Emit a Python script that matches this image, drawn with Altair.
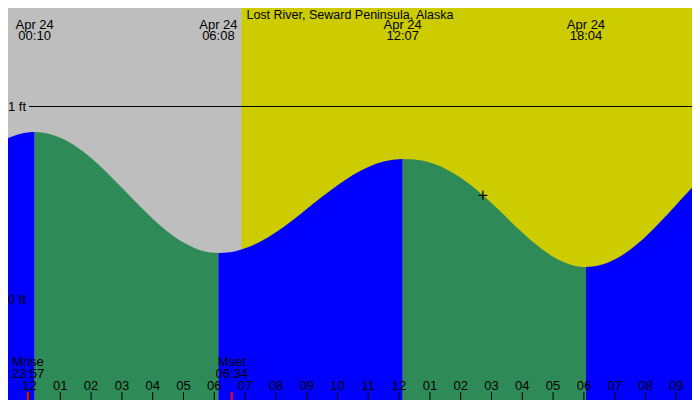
import altair as alt
import pandas as pd

# ---------------- data ----------------
title_text = "Lost River, Seward Peninsula, Alaska"

# predicted tide height (hours after 00:00 Apr 24, feet)
tide_hours = [-1.0, -0.5, 0.0, 0.167, 0.5, 1.0, 1.5, 2.0, 2.5, 3.0, 3.5, 4.0, 4.5, 5.0, 5.5, 6.0,
              6.133, 6.5, 7.0, 7.5, 8.0, 8.5, 9.0, 9.5, 10.0, 10.5, 11.0, 11.5, 12.0,
              12.117, 12.5, 13.0, 13.5, 14.0, 14.5, 15.0, 15.5, 16.0, 16.5, 17.0, 17.5, 18.0,
              18.067, 18.5, 19.0, 19.5, 20.0, 20.5, 21.0, 21.5, 22.0]
tide_ft = [0.813, 0.849, 0.867, 0.868, 0.863, 0.838, 0.794, 0.733, 0.660, 0.579, 0.497, 0.419, 0.350, 0.295, 0.258, 0.242,
           0.241, 0.245, 0.266, 0.301, 0.349, 0.406, 0.469, 0.532, 0.592, 0.645, 0.687, 0.715, 0.727,
           0.728, 0.725, 0.710, 0.678, 0.631, 0.571, 0.500, 0.423, 0.347, 0.278, 0.221, 0.184, 0.168,
           0.168, 0.177, 0.207, 0.258, 0.325, 0.405, 0.491, 0.578, 0.660]

# high / low tide events shown in the header
extreme_dates = ["Apr 24", "Apr 24", "Apr 24", "Apr 24"]
extreme_times = ["00:10", "06:08", "12:07", "18:04"]
first_phase_rising = True  # tide rising before the 00:10 high

# night (sunset on previous evening -> sunrise)
night_start = -0.70   # 23:18 Apr 23
night_end = "06:53"

# moon events
moon_labels = ["Mrise", "Mset"]
moon_times = ["23:57", "06:34"]
moon_day_offset = [-1, 0]

# hour ticks
tick_hours = list(range(0, 22))
tick_labels = ["12", "01", "02", "03", "04", "05", "06", "07", "08", "09", "10", "11",
               "12", "01", "02", "03", "04", "05", "06", "07", "08", "09"]

# depth reference lines
depth_ft = [1, 0]
depth_labels = ["1 ft", "0 ft"]

# current time marker
now_hour = 14.72
now_ft = 0.54


def hrs(s, day=0):
    hh, mm = s.split(":")
    return int(hh) + int(mm) / 60 + 24 * day


# ---------------- scales ----------------
W, H = 684, 392
Y_MIN, Y_MAX = -0.5207, 1.5104
xs = alt.Scale(domain=[-0.698, 21.510], nice=False, zero=False)
ys = alt.Scale(domain=[Y_MIN, Y_MAX], nice=False, zero=False)
X = lambda f="h:Q": alt.X(f, scale=xs, axis=None)
Y = lambda f="ft:Q": alt.Y(f, scale=ys, axis=None, stack=None)
FONT = "Liberation Sans"

# ---------------- tables ----------------
ext_h = [hrs(t) for t in extreme_times]
rows = []
for h, f in zip(tide_hours, tide_ft):
    seg = sum(1 for b in ext_h if b < h - 0.01)
    ph = "rising" if (seg % 2 == 0) == first_phase_rising else "falling"
    rows.append(dict(h=h, ft=f, base=Y_MIN - 0.1, seg=seg, phase=ph))
    if any(abs(b - h) < 0.01 for b in ext_h):
        ph2 = "rising" if ((seg + 1) % 2 == 0) == first_phase_rising else "falling"
        rows.append(dict(h=h, ft=f, base=Y_MIN - 0.1, seg=seg + 1, phase=ph2))
tide_df = pd.DataFrame(rows)

ext_df = pd.DataFrame(dict(h=ext_h, date=extreme_dates, time=extreme_times))
night_df = pd.DataFrame(dict(h=[night_start], h2=[hrs(night_end)]))
moon_df = pd.DataFrame(dict(h=[hrs(t, d) for t, d in zip(moon_times, moon_day_offset)],
                            label=moon_labels, time=moon_times))
tick_df = pd.DataFrame(dict(h=tick_hours, label=tick_labels))
depth_df = pd.DataFrame(dict(ft=depth_ft, label=depth_labels))
now_df = pd.DataFrame(dict(h=[now_hour], ft=[now_ft]))
title_df = pd.DataFrame(dict(t=[title_text]))

night = alt.Chart(night_df).mark_rect(color="#BEBEBE", clip=True).encode(
    x=X(), x2="h2:Q", y=alt.value(0), y2=alt.value(H))

one_ft = alt.Chart(depth_df[depth_df.ft == 1]).mark_rule(color="black", strokeWidth=1).encode(
    x=alt.value(21), x2=alt.value(W), y=Y())

water = alt.Chart(tide_df).mark_area(clip=True, interpolate="monotone").encode(
    x=X(), y=Y(), y2="base:Q",
    color=alt.Color("phase:N", scale=alt.Scale(domain=["rising", "falling"],
                                               range=["#0000FF", "#2E8B57"]), legend=None),
    detail="seg:N")

depth_text = alt.Chart(depth_df).mark_text(font=FONT, fontSize=13, align="left",
                                           baseline="middle", color="black").encode(
    x=alt.value(0), y=Y(), text="label:N")

title = alt.Chart(title_df).mark_text(font=FONT, fontSize=12.5, align="center",
                                      baseline="alphabetic", color="black").encode(
    x=alt.value(342), y=alt.value(11.3), text="t:N")

hdr_date = alt.Chart(ext_df).mark_text(font=FONT, fontSize=13, align="center",
                                       baseline="alphabetic", color="black").encode(
    x=X(), y=alt.value(20.5), text="date:N")
hdr_time = alt.Chart(ext_df).mark_text(font=FONT, fontSize=13, align="center",
                                       baseline="alphabetic", color="black").encode(
    x=X(), y=alt.value(31.5), text="time:N")

ticks = alt.Chart(tick_df).mark_rule(color="black", strokeWidth=1).encode(
    x=X(), y=alt.value(384), y2=alt.value(H))
tick_text = alt.Chart(tick_df).mark_text(font=FONT, fontSize=13, align="center",
                                         baseline="alphabetic", color="black").encode(
    x=X(), y=alt.value(382), text="label:N")

moon_ticks = alt.Chart(moon_df).mark_rule(color="#FF0000", strokeWidth=2).encode(
    x=X(), y=alt.value(384), y2=alt.value(H))
moon_lab = alt.Chart(moon_df).mark_text(font=FONT, fontSize=13, align="center",
                                        baseline="alphabetic", color="black").encode(
    x=X(), y=alt.value(358), text="label:N")
moon_time = alt.Chart(moon_df).mark_text(font=FONT, fontSize=13, align="center",
                                         baseline="alphabetic", color="black").encode(
    x=X(), y=alt.value(370), text="time:N")

now_mark = alt.Chart(now_df).mark_point(shape="M-1,0H1M0,-1V1", size=81, filled=False,
                                        color="black", strokeWidth=1.3, opacity=1).encode(
    x=X(), y=Y())

chart = alt.layer(
    night, one_ft, water, depth_text, title, hdr_date, hdr_time,
    ticks, tick_text, moon_ticks, moon_lab, moon_time, now_mark
).properties(
    width=W, height=H, autosize=alt.AutoSizeParams(type="none"), padding=0,
    background="#CCCC00"
).configure_view(strokeWidth=0)

chart.save("out.html", embed_options={"renderer": "svg", "actions": False})
